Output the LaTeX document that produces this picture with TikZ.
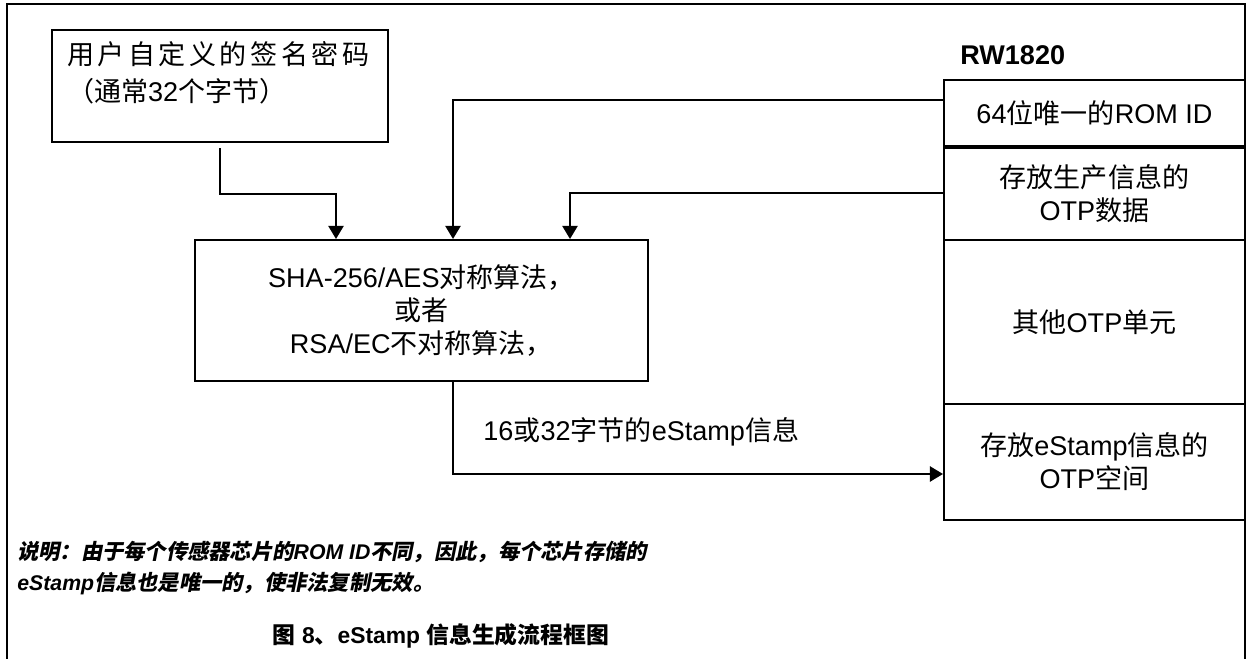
\documentclass[tikz,border=0pt]{standalone}
\usepackage{fontspec}
\setmainfont{Liberation Sans}
\newfontfamily\cjk{Noto Sans CJK SC}
\newfontfamily\cjkslant{Noto Sans CJK SC}[FakeSlant=0.2]
\newfontfamily\cjkwide{Noto Sans CJK SC}[LetterSpace=13]
\newcommand\zh[1]{{\cjk #1}}
\newcommand\zhi[1]{{\cjkslant\upshape #1}}
\usetikzlibrary{arrows.meta,positioning}
\tikzstyle{block} = [draw, line width=1.1pt, inner sep=0pt, align=center]
\tikzstyle{cell} = [block, minimum width=6.02cm]
\tikzstyle{txt} = [inner sep=0pt]
\tikzstyle{flow} = [line width=1.6pt, -{Triangle[length=7.5pt,width=8.5pt]}]

\begin{document}
\begin{tikzpicture}[x=0.02cm, y=-0.02cm, font=\fontsize{15.4}{18.7}\selectfont]
  \useasboundingbox (0,0) rectangle (1249,659);
  \draw[line width=0.8pt] (7,659) -- (7,4) -- (1245,4) -- (1245,659);
  \node (key) at (220,86) [block, inner xsep=0.3cm, inner ysep=0.17cm]
    {\parbox[c][1.9cm][t]{6.12cm}{\fontsize{15.4}{21}\selectfont\vspace*{0.06cm}
     {\cjkwide 用户自定义的签名密码}\\\zh{（通常}32\zh{个字节）}}};
  \node (alg) at (421.5,310.5) [block, minimum width=9.06cm, minimum height=2.82cm]
    {SHA-256/AES\zh{对称算法，}\\\zh{或者}\\RSA/EC\zh{不对称算法，}};
  \node (chip) at (960,55) [txt, anchor=west, font=\fontsize{15.4}{18.7}\selectfont\bfseries] {RW1820};
  \node (rom) at (1094.5,113) [cell, minimum height=1.32cm] {64\zh{位唯一的}ROM ID};
  \node (otp) at (1094.5,194) [cell, minimum height=1.84cm] {\zh{存放生产信息的}\\OTP\zh{数据}};
  \node (other) at (1094.5,322) [cell, minimum height=3.28cm] {\zh{其他}OTP\zh{单元}};
  \node (stamp) at (1094.5,462) [cell, minimum height=2.32cm] {\zh{存放}eStamp\zh{信息的}\\OTP\zh{空间}};
  \node (len) at (483,432) [txt, anchor=west] {16\zh{或}32\zh{字节的}eStamp\zh{信息}};
  \node (note) at (17,568) [txt, anchor=west, align=left, font=\fontsize{12.1}{18.1}\selectfont\bfseries\itshape]
    {\zhi{说明：由于每个传感器芯片的}ROM ID\zhi{不同，因此，每个芯片存储的}\\eStamp\zhi{信息也是唯一的，使非法复制无效。}};
  \node (cap) at (441,636) [txt, font=\fontsize{13}{16}\selectfont\bfseries]
    {\zh{图} 8\zh{、}eStamp \zh{信息生成流程框图}};
  \coordinate (k1) at (336,194);
  \coordinate (r1) at (453,100);
  \coordinate (r2) at (570,193);
  \coordinate (s1) at (453,474);
  \draw [flow, shorten <=3pt] (key.south) |- (k1) -- (k1 |- alg.north);
  \draw [flow] (rom.west |- r1) -| (alg.north -| r1);
  \draw [flow] (otp.west |- r2) -| (alg.north -| r2);
  \draw [flow] (alg.south -| s1) |- (stamp.west |- s1);
\end{tikzpicture}
\end{document}
